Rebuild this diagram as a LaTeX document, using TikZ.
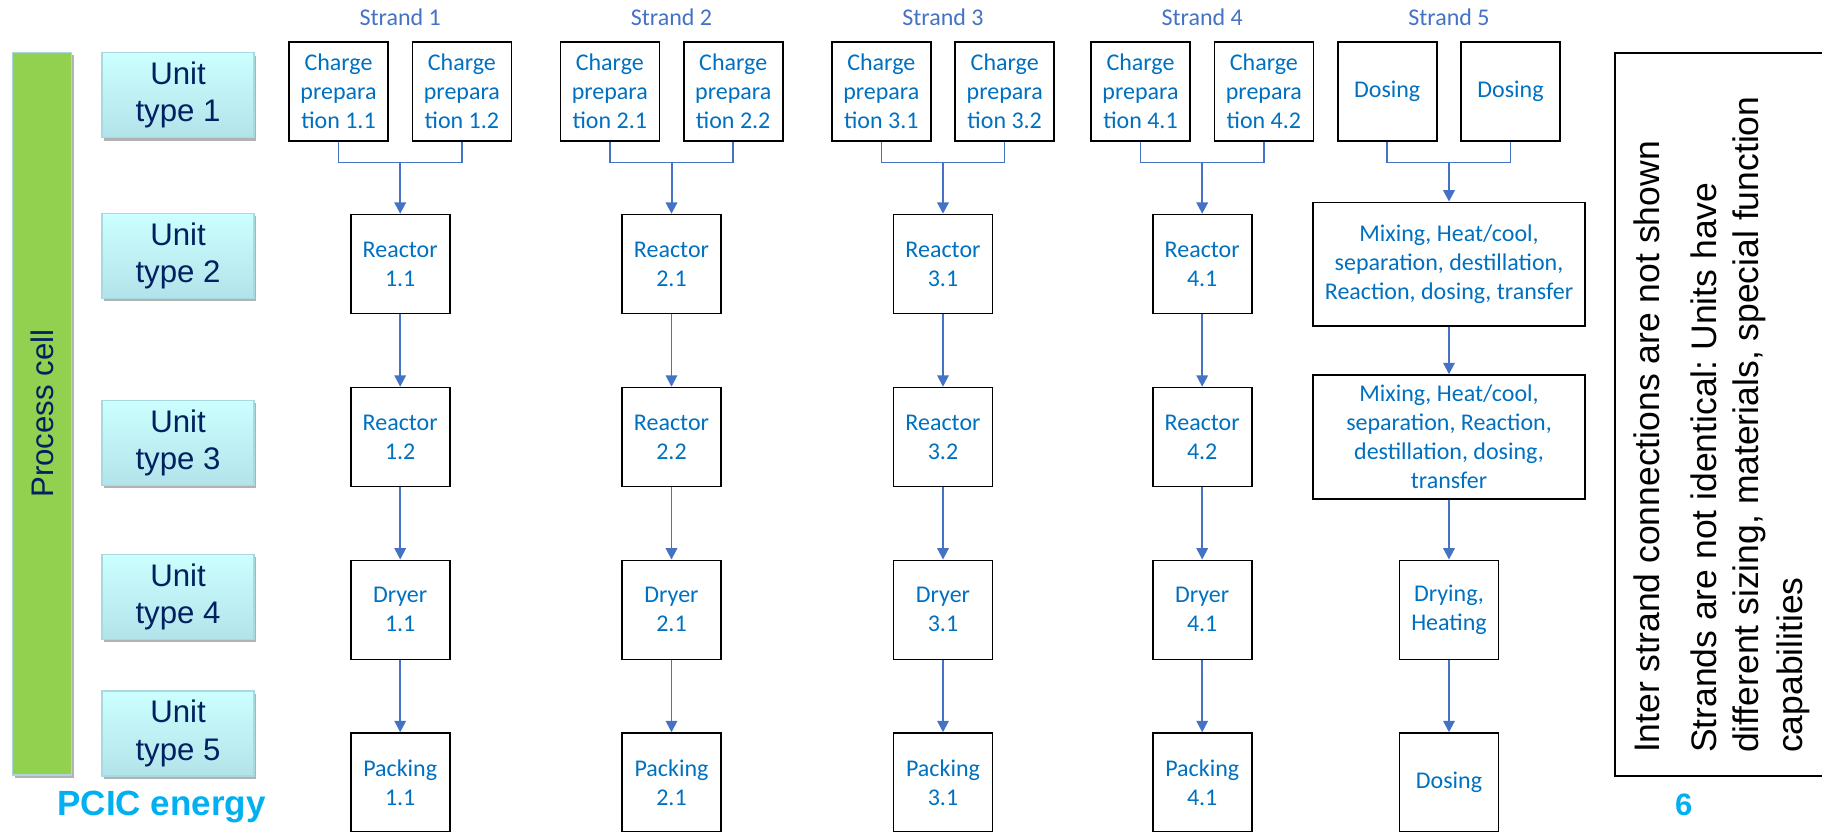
\documentclass[tikz,border=0pt]{standalone}
\usepackage{fontspec}
\setmainfont{Carlito}
\newfontfamily\arialf{Liberation Sans}
\usetikzlibrary{arrows.meta,shadows}
\frenchspacing

\definecolor{boxblue}{HTML}{0070C0}
\definecolor{arrowblue}{HTML}{4472C4}
\definecolor{navy}{HTML}{002060}
\definecolor{cellgreen}{HTML}{92D050}
\definecolor{brandcyan}{HTML}{00B0F0}
\definecolor{unittop}{HTML}{CCFFFF}
\definecolor{unitbot}{HTML}{B2E3EA}
\definecolor{unitedge}{HTML}{A9D8E0}

\begin{document}
\begin{tikzpicture}[x=0.5pt,y=-0.5pt,
  unitbox/.style={draw=unitedge, line width=0.6pt, top color=unittop, bottom color=unitbot,
    minimum width=76pt, minimum height=42.5pt, inner sep=0pt, align=center, text=navy,
    font=\arialf\fontsize{15.6}{18.8}\selectfont,
    drop shadow={shadow xshift=1pt, shadow yshift=-1.5pt, opacity=0.3, fill=black}},
  cellbar/.style={draw=unitedge, line width=0.6pt, fill=cellgreen,
    minimum width=29.5pt, minimum height=361.35pt, inner sep=0pt,
    drop shadow={shadow xshift=1pt, shadow yshift=-1.5pt, opacity=0.3, fill=black}},
  procbox/.style={draw=black, line width=0.8pt, minimum width=49.5pt, minimum height=49.5pt,
    inner sep=1pt, align=center, text=boxblue, font=\fontsize{12}{14.5}\selectfont},
  widebox/.style={procbox, minimum width=136pt},
  strandlabel/.style={anchor=base, inner sep=0pt, text=arrowblue, font=\fontsize{12}{14.5}\selectfont},
  flow/.style={draw=arrowblue, line width=0.75pt, -{Triangle[length=5.7pt,width=5.8pt]}},
  stem/.style={flow, line width=1pt},
  feed/.style={draw=arrowblue, line width=0.75pt},
  note/.style={rotate=90, anchor=base west, inner sep=0pt, font=\arialf\fontsize{17.75}{21}\selectfont},
]
\useasboundingbox (0,0) rectangle (1822,831);
\clip (0,0) rectangle (1822,831);

% process cell bar and unit types
\node[cellbar] (cell) at (42.2,413.7) {};
\node[rotate=90, inner sep=0pt, text=navy, font=\arialf\fontsize{15.6}{18.8}\selectfont] (celltxt) at (cell.center) {Process cell};

\node[unitbox] (u1) at (178,95)    {Unit\\type 1};
\node[unitbox] (u2) at (178,255.8) {Unit\\type 2};
\node[unitbox] (u3) at (178,442.9) {Unit\\type 3};
\node[unitbox] (u4) at (178,596.8) {Unit\\type 4};
\node[unitbox] (u5) at (178,733.5) {Unit\\type 5};

% strands 1 to 4
\foreach \s/\x in {1/400.2,2/671.5,3/943,4/1202.2}{
  \node[strandlabel] (lab\s) at (\x,25) {Strand \s};
  \node[procbox] (c\s-a) at (\x-61.7,91.7) {Charge\\prepara\\tion \s.1};
  \node[procbox] (c\s-b) at (\x+61.7,91.7) {Charge\\prepara\\tion \s.2};
  \node[procbox] (r\s-a) at (\x,264)   {Reactor\\\s.1};
  \node[procbox] (r\s-b) at (\x,437)   {Reactor\\\s.2};
  \node[procbox] (d\s)   at (\x,609.8) {Dryer\\\s.1};
  \node[procbox] (p\s)   at (\x,782.5) {Packing\\\s.1};
  \coordinate (j\s) at (\x,162.7);
  \draw[feed] (c\s-a.south) |- (j\s) -| (c\s-b.south);
  \draw[stem] (j\s) -- (r\s-a.north);
  \draw[flow] (r\s-a) -- (r\s-b);
  \draw[flow] (r\s-b) -- (d\s);
  \draw[flow] (d\s) -- (p\s);
}

% strand 5
\node[strandlabel] (lab5) at (1449,25) {Strand 5};
\node[procbox] (q1) at (1387.2,91.7) {Dosing};
\node[procbox] (q2) at (1510.5,91.7) {Dosing};
\node[widebox, minimum height=61.7pt] (m1) at (1449,264)
  {Mixing, Heat/cool,\\separation, destillation,\\Reaction, dosing, transfer};
\node[widebox, minimum height=62pt] (m2) at (1449,437)
  {Mixing, Heat/cool,\\separation, Reaction,\\destillation, dosing,\\transfer};
\node[procbox] (dh) at (1449,609.8) {Drying,\\Heating};
\node[procbox] (ds) at (1449,782.5) {Dosing};
\coordinate (j5) at (1449,162.7);
\draw[feed] (q1.south) |- (j5) -| (q2.south);
\draw[stem] (j5) -- (m1.north);
\draw[flow] (m1) -- (m2);
\draw[flow] (m2) -- (dh);
\draw[flow] (dh) -- (ds);

% notes frame
\node[draw=black, line width=0.8pt, anchor=north west, minimum width=110pt,
  minimum height=361.35pt, inner sep=0pt] (notes) at (1614,52.3) {};
\node[note] (n1) at (1659,753.3) {Inter strand connections are not shown};
\node[note] (n2) at (1716,753.3) {Strands are not identical: Units have};
\node[note] (n3) at (1758,753.3) {different sizing, materials, special function};
\node[note] (n4) at (1802,753.3) {capabilities};

% footer
\node[anchor=base west, inner sep=0pt, text=brandcyan,
  font=\arialf\bfseries\fontsize{17.5}{20}\selectfont] (brand) at (57,815) {PCIC energy};
\node[anchor=base, inner sep=0pt, text=brandcyan,
  font=\arialf\bfseries\fontsize{15.5}{18}\selectfont] (pageno) at (1683.7,815) {6};
\end{tikzpicture}
\end{document}
